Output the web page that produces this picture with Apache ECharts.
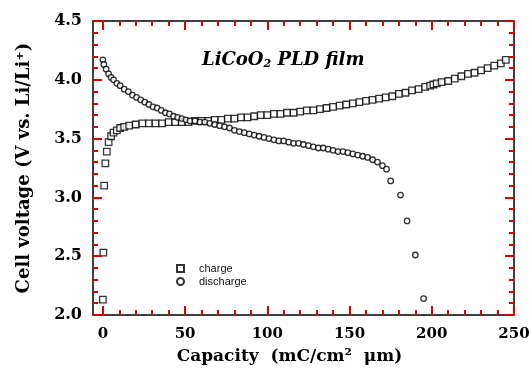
<!DOCTYPE html>
<html>
<head>
<meta charset="utf-8">
<script src="https://cdn.jsdelivr.net/npm/echarts@6/dist/echarts.min.js"></script>
<style>
  html, body { margin: 0; background: #fff; }
  #chart { width: 530px; height: 369px; }
</style>
</head>
<body>
<div id="chart"></div>
<script>
// capacity (mC/cm2 um), voltage (V)
const chargeData = [
  [0, 2.13], [0.3, 2.53], [0.8, 3.10], [1.5, 3.29], [2.4, 3.39], [3.5, 3.47], [5, 3.52],
  [6.5, 3.55], [8.5, 3.57], [10.5, 3.59], [13, 3.60], [16, 3.61], [20, 3.62], [24, 3.63],
  [28, 3.63], [32, 3.63], [36, 3.63], [40, 3.64], [44, 3.64], [48, 3.64], [52, 3.64],
  [56, 3.65], [60, 3.65], [64, 3.65], [68, 3.66], [72, 3.66], [76, 3.67], [80, 3.67],
  [84, 3.68], [88, 3.68], [92, 3.69], [96, 3.70], [100, 3.70], [104, 3.71], [108, 3.71],
  [112, 3.72], [116, 3.72], [120, 3.73], [124, 3.74], [128, 3.74], [132, 3.75], [136, 3.76],
  [140, 3.77], [144, 3.78], [148, 3.79], [152, 3.80], [156, 3.81], [160, 3.82], [164, 3.83],
  [168, 3.84], [172, 3.85], [176, 3.86], [180, 3.88], [184, 3.89], [188, 3.91], [192, 3.92],
  [196, 3.94], [199, 3.95], [201, 3.96], [203, 3.97], [206, 3.98], [210, 3.99], [214, 4.01],
  [218, 4.03], [222, 4.05], [226, 4.06], [230, 4.08], [234, 4.10], [238, 4.12], [242, 4.14],
  [245, 4.17]
];
const dischargeData = [
  [0, 4.17], [0.6, 4.13], [2, 4.09], [3.5, 4.05], [5, 4.02], [6.5, 4.00], [8.5, 3.97],
  [10.5, 3.95], [13, 3.92], [15.5, 3.90], [18, 3.87], [20.5, 3.85], [23, 3.83], [25.5, 3.81],
  [28, 3.79], [30.5, 3.77], [33, 3.76], [35.5, 3.74], [38, 3.72], [40.5, 3.71], [43, 3.69],
  [45.5, 3.68], [48, 3.67], [50.5, 3.66], [53, 3.65], [56, 3.65], [59, 3.64], [62, 3.64],
  [65, 3.63], [68, 3.62], [71, 3.61], [74, 3.60], [77, 3.59], [80, 3.57], [83, 3.56],
  [86, 3.55], [89, 3.54], [92, 3.53], [95, 3.52], [98, 3.51], [101, 3.50], [104, 3.49],
  [107, 3.48], [110, 3.48], [113, 3.47], [116, 3.46], [119, 3.46], [122, 3.45], [125, 3.44],
  [128, 3.43], [131, 3.42], [134, 3.42], [137, 3.41], [140, 3.40], [143, 3.39], [146, 3.39],
  [149, 3.38], [152, 3.37], [155, 3.36], [158, 3.35], [161, 3.34], [164, 3.32], [167, 3.30],
  [170, 3.27], [172.5, 3.24], [175, 3.14], [181, 3.02], [185, 2.80], [190, 2.51], [195, 2.14]
];
const xMajorTicks = [0, 50, 100, 150, 200, 250];
const xMinorTicks = [0, 10, 20, 30, 40, 50, 60, 70, 80, 90, 100, 110, 120, 130, 140, 150,
  160, 170, 180, 190, 200, 210, 220, 230, 240, 250];

const serif = '"DejaVu Serif", "Liberation Serif", serif';
const sans = '"Liberation Sans", Arial, sans-serif';
const black = '#000';
const tickColor = '#e00000';

const chart = echarts.init(document.getElementById('chart'));

function xAxis(position, major, labels) {
  return {
    type: 'value', position: position, min: -6, max: 250, z: 10,
    splitLine: { show: false },
    axisLine: { show: major, onZero: false, lineStyle: { color: black, width: 1.5 } },
    axisTick: {
      show: true, inside: true, length: major ? 9 : 5,
      customValues: major ? xMajorTicks : xMinorTicks,
      lineStyle: { color: tickColor, width: 2 }
    },
    axisLabel: labels ? {
      customValues: xMajorTicks, margin: 12, color: black,
      fontFamily: serif, fontWeight: 'bold', fontSize: 15
    } : { show: false }
  };
}

function yAxis(position, labels) {
  return {
    type: 'value', position: position, min: 2, max: 4.5, interval: 0.5, z: 10,
    splitLine: { show: false },
    axisLine: { show: true, onZero: false, lineStyle: { color: black, width: 1.5 } },
    axisTick: { show: true, inside: true, length: 9, lineStyle: { color: tickColor, width: 2 } },
    minorTick: { show: true, splitNumber: 5, length: 5, lineStyle: { color: tickColor, width: 2 } },
    axisLabel: labels ? {
      margin: 11, color: black, fontFamily: serif, fontWeight: 'bold', fontSize: 16,
      formatter: v => v.toFixed(1)
    } : { show: false }
  };
}

const xs = [xAxis('bottom', true, true), xAxis('bottom', false, false),
            xAxis('top', true, false), xAxis('top', false, false)];
Object.assign(xs[0], {
  name: 'Capacity  (mC/cm²  μm)', nameLocation: 'middle', nameGap: 33,
  nameTextStyle: { fontFamily: serif, fontWeight: 'bold', fontSize: 17, color: black, padding: [0, 28, 0, 0] }
});
const ys = [yAxis('left', true), yAxis('right', false)];
Object.assign(ys[0], {
  name: 'Cell voltage (V vs. Li/Li⁺)', nameLocation: 'middle', nameGap: 60,
  nameTextStyle: { fontFamily: serif, fontWeight: 'bold', fontSize: 18, color: black }
});

chart.setOption({
  animation: false,
  grid: { left: 93, right: 16, top: 21, bottom: 54, outerBoundsMode: 'none' },
  title: {
    text: '{a|LiCoO}{s|2}{a| PLD film}', left: 197, top: 45,
    textStyle: {
      rich: {
        a: { fontFamily: serif, fontSize: 18, fontWeight: 'bold', fontStyle: 'italic', color: black },
        s: { fontFamily: serif, fontSize: 11, fontWeight: 'bold', fontStyle: 'italic', color: black, padding: [9, 0, 0, 0] }
      }
    }
  },
  legend: {
    orient: 'vertical', left: 176, top: 263, padding: 0, itemWidth: 7, itemHeight: 7, itemGap: 2,
    textStyle: { fontFamily: sans, fontSize: 11, color: '#111', padding: [0, 0, 0, 10] },
    data: ['charge', 'discharge']
  },
  xAxis: xs,
  yAxis: ys,
  series: [
    {
      name: 'charge', type: 'scatter', data: chargeData, symbol: 'rect', symbolSize: 6.5,
      itemStyle: { color: '#fff', borderColor: black, borderWidth: 1.3 }
    },
    {
      name: 'discharge', type: 'scatter', data: dischargeData, symbol: 'circle', symbolSize: 5.5,
      itemStyle: { color: '#fff', borderColor: black, borderWidth: 1.3 }
    }
  ]
});
</script>
</body>
</html>
